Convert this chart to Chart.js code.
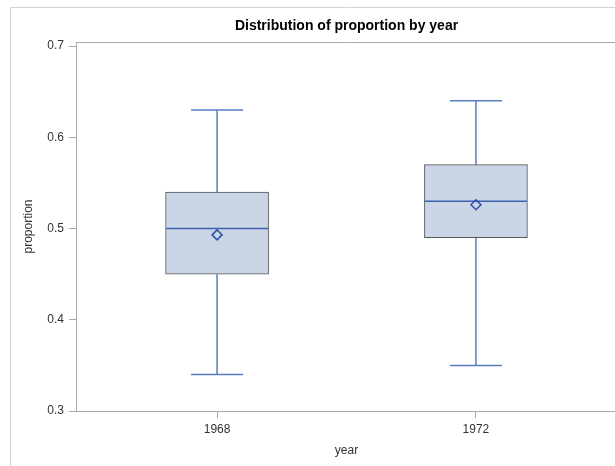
<!DOCTYPE html>
<html>
<head>
<meta charset="utf-8">
<script src="https://cdn.jsdelivr.net/npm/chart.js@4.4.1/dist/chart.umd.min.js"></script>
<style>
html, body { margin: 0; padding: 0; background: #fff; overflow: hidden; }
#boxChart { display: block; }
</style>
</head>
<body>
<canvas id="boxChart" width="692" height="466"></canvas>
<script>
// values
const chartTitle = 'Distribution of proportion by year';
const categories = ['1968', '1972'];
const years = [1968, 1972];
const whiskerLow = [0.34, 0.35];
const q1 = [0.45, 0.49];
const median = [0.50, 0.53];
const q3 = [0.54, 0.57];
const whiskerHigh = [0.63, 0.64];
const means = [0.493, 0.526];
const yTicks = [0.3, 0.4, 0.5, 0.6, 0.7];

const fontFamily = '"Liberation Sans", Arial, sans-serif';
const lineBlue = '#5b7bc2';

// title over the plot, whiskers, caps, median line and the frame
const boxLines = {
    id: 'boxLines',
    beforeDraw(chart) {
        const c = chart.ctx, a = chart.chartArea;
        c.save();
        c.lineWidth = 1;
        c.strokeStyle = '#d4d4d4';
        c.beginPath();
        c.moveTo(10.5, chart.height);
        c.lineTo(10.5, 7.5);
        c.lineTo(chart.width, 7.5);
        c.stroke();
        c.strokeStyle = '#a8a8a8';
        c.beginPath();
        c.moveTo(a.left, a.top + 0.5);
        c.lineTo(a.right, a.top + 0.5);
        c.stroke();
        // title is centred on the plot, not on the canvas
        c.fillStyle = '#000';
        c.font = 'bold 14px ' + fontFamily;
        c.textAlign = 'center';
        c.textBaseline = 'middle';
        c.fillText(chartTitle, (a.left + a.right) / 2, 26);
        c.restore();
    },
    beforeDatasetsDraw(chart) {
        const c = chart.ctx, x = chart.scales.x, y = chart.scales.y;
        c.save();
        c.lineWidth = 1.5;
        c.strokeStyle = lineBlue;
        years.forEach((yr, i) => {
            const px = x.getPixelForValue(yr);
            const hi = y.getPixelForValue(whiskerHigh[i]);
            const lo = y.getPixelForValue(whiskerLow[i]);
            c.beginPath();
            c.moveTo(px, y.getPixelForValue(q3[i]));
            c.lineTo(px, hi);
            c.moveTo(px, y.getPixelForValue(q1[i]));
            c.lineTo(px, lo);
            c.moveTo(px - 26, hi);
            c.lineTo(px + 26, hi);
            c.moveTo(px - 26, lo);
            c.lineTo(px + 26, lo);
            c.stroke();
        });
        c.restore();
    },
    afterDatasetDraw(chart, args) {
        if (args.index !== 0) return;
        const c = chart.ctx, x = chart.scales.x, y = chart.scales.y;
        c.save();
        c.lineWidth = 1.5;
        c.strokeStyle = '#3f61b3';
        years.forEach((yr, i) => {
            const px = x.getPixelForValue(yr);
            const py = y.getPixelForValue(median[i]);
            c.beginPath();
            c.moveTo(px - 51, py);
            c.lineTo(px + 51, py);
            c.stroke();
        });
        c.restore();
    }
};

const ctx = document.getElementById('boxChart');

new Chart(ctx, {
    type: 'bar',
    data: {
        datasets: [{
            label: 'box',
            data: years.map((yr, i) => ({ x: yr, y: [q1[i], q3[i]] })),
            backgroundColor: '#cad5e6',
            borderColor: '#555555',
            borderWidth: 1,
            borderSkipped: false,
            barThickness: 103,
            order: 2
        }, {
            type: 'scatter',
            label: 'mean',
            data: years.map((yr, i) => ({ x: yr, y: means[i] })),
            pointStyle: 'rectRot',
            pointRadius: 5,
            pointBorderWidth: 1.5,
            borderColor: '#2f52a6',
            backgroundColor: 'rgba(0,0,0,0)',
            order: 1
        }]
    },
    options: {
        responsive: false,
        animation: false,
        // canvas is wider than the window: the plot runs past the right edge, as in the original
        layout: { padding: { left: 0, right: 75, top: 42, bottom: 0 } },
        plugins: {
            legend: { display: false },
            tooltip: { enabled: false },
            title: { display: false }
        },
        scales: {
            x: {
                type: 'linear',
                offset: false,
                min: 1965.82,
                max: 1974.18,
                afterBuildTicks: s => { s.ticks = years.map(v => ({ value: v })); },
                afterFit: s => { s.height = 55; },
                ticks: {
                    callback: v => categories[years.indexOf(v)],
                    color: '#333',
                    font: { family: fontFamily, size: 12 },
                    padding: 4,
                    maxRotation: 0
                },
                grid: { drawOnChartArea: false, offset: false, tickLength: 7, color: '#a8a8a8' },
                border: { color: '#a8a8a8' },
                title: {
                    display: true,
                    text: 'year',
                    color: '#333',
                    font: { family: fontFamily, size: 12 },
                    padding: { top: 0, bottom: 8 }
                }
            },
            y: {
                min: 0.3,
                max: 0.7044,
                afterBuildTicks: s => { s.ticks = yTicks.map(v => ({ value: v })); },
                afterFit: s => { s.width = 76; },
                ticks: {
                    callback: v => v.toFixed(1),
                    color: '#333',
                    font: { family: fontFamily, size: 12 },
                    padding: 5
                },
                grid: { drawOnChartArea: false, tickLength: 7, color: '#a8a8a8' },
                border: { color: '#a8a8a8' },
                title: {
                    display: true,
                    text: 'proportion',
                    color: '#333',
                    font: { family: fontFamily, size: 12 },
                    padding: { top: 21, bottom: 0 }
                }
            }
        }
    },
    plugins: [boxLines]
});
</script>
</body>
</html>
